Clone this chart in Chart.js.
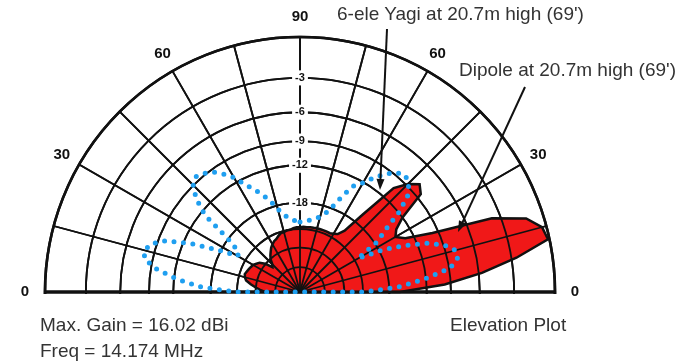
<!DOCTYPE html>
<html>
<head>
<meta charset="utf-8">
<script src="https://cdn.jsdelivr.net/npm/chart.js@4/dist/chart.umd.min.js"></script>
<style>
  html, body { margin: 0; background: #fff; }
  #wrap { position: relative; width: 684px; height: 364px; overflow: hidden; }
  #wrap canvas { position: absolute; left: 0; top: 0; }
  .txt { position: absolute; font: 19px "Liberation Sans", Arial, sans-serif; line-height: 19px; color: #333; white-space: nowrap; }
</style>
</head>
<body>
<div id="wrap">
  <canvas id="elev" width="684" height="560"></canvas>
  <div class="txt" style="left:337px;top:4px">6-ele Yagi at 20.7m high (69')</div>
  <div class="txt" style="left:459px;top:60px">Dipole at 20.7m high (69')</div>
  <div class="txt" style="left:40px;top:315px">Max. Gain = 16.02 dBi</div>
  <div class="txt" style="left:40px;top:341px">Freq = 14.174 MHz</div>
  <div class="txt" style="left:450px;top:315px">Elevation Plot</div>
</div>
<script>
// elevation angle above horizon, 3 deg steps, 0..180
const elevDeg = Array.from({ length: 61 }, (_, i) => i * 3);

// gain relative to max (16.02 dBi), dB
const yagiDb = [
  -16.1, -9.7, -5.7, -2.6, -0.1, -0.3, -1.2, -3.7, -9.7, -13.2,
  -14.4, -13.7, -12.0, -8.5, -7.9, -8.8, -10.3, -16.1, -20.8, -22.4,
  -22.9, -23.2, -23.2, -23.2, -23.2, -23.2, -23.3, -23.3, -23.4, -23.4,
  -23.5, -23.5, -23.7, -24.0, -24.0, -24.3, -24.3, -24.8, -25.4, -25.7,
  -26.3, -27.0, -28.0, -29.0, -30.2, -32.2, -33.1, -29.8, -28.0, -27.3,
  -26.6, -26.3, -26.0, -25.7, -25.4, -25.7, -26.3, -28.0, -29.8, -31.8,
  -34.1
];
const dipoleDb = [
  -23.5, -16.1, -12.2, -8.9, -7.9, -7.9, -8.9, -10.8, -13.8, -17.3,
  -23.0, -17.5, -15.2, -11.8, -9.6, -8.7, -8.3, -8.7, -9.6, -10.7,
  -12.1, -13.0, -15.1, -17.5, -19.3, -20.3, -21.0, -21.5, -21.7, -21.9,
  -22.2, -21.9, -21.6, -21.0, -20.0, -18.7, -16.8, -15.4, -14.1, -12.9,
  -11.3, -10.2, -9.3, -8.8, -8.5, -9.0, -10.3, -12.6, -18.7, -21.5,
  -21.7, -17.3, -13.2, -9.9, -8.4, -7.9, -8.1, -9.7, -12.4, -16.1,
  -23.5
];

// rings (dB) and their labels on the vertical axis
const ringDb     = [0, -3, -6, -9, -12, -18, -24, -30, -40];
const ringLabels = ['', '-3', '-6', '-9', '-12', '-18', '', '', ''];

// angle labels round the rim
const markDeg    = [0, 30, 60, 90, 120, 150, 180];
const markLabels = ['0', '30', '60', '90', '60', '30', '0'];

// ARRL log scale: 0.89 per 2 dB
const arrl = db => Math.pow(0.89, -db / 2);

// radar spokes: index 0 straight up, clockwise, 3 deg each
const STEP = 3, N = 360 / STEP;
const spokeElev = i => ((90 - STEP * i) % 360 + 360) % 360;
const spokeOf = e => ((90 - e) % 360 + 360) % 360 / STEP;
const labels = Array.from({ length: N }, (_, i) => String(spokeElev(i)));

function toRadar(db) {
  return labels.map((_, i) => {
    const e = spokeElev(i);
    return e <= 180 ? arrl(db[elevDeg.indexOf(e)]) : 0;
  });
}

// upper half only; grid redrawn on top of the red fill, then the rim labels
const halfPlane = {
  id: 'halfPlane',
  beforeDraw(chart) {
    const s = chart.scales.r, ctx = chart.ctx;
    ctx.save();
    ctx.beginPath();
    ctx.rect(0, 0, chart.width, s.yCenter + 2);
    ctx.clip();
  },
  afterDatasetDraw(chart, args) {
    if (args.index !== 1) return;
    const s = chart.scales.r;
    s.drawGrid();
    s.drawLabels();
  },
  afterDraw(chart) {
    const s = chart.scales.r, ctx = chart.ctx;
    ctx.restore();

    ctx.save();
    ctx.fillStyle = '#111';
    ctx.font = 'bold 15px "Liberation Sans", Arial, sans-serif';
    ctx.textAlign = 'center';
    ctx.textBaseline = 'middle';
    markDeg.forEach((e, k) => {
      const p = s.getPointPosition(spokeOf(e), s.drawingArea + 20);
      ctx.fillText(markLabels[k], p.x, p.y);
    });

    // pointers from the captions
    const arrow = (x1, y1, x2, y2) => {
      const a = Math.atan2(y2 - y1, x2 - x1);
      ctx.beginPath();
      ctx.moveTo(x1, y1);
      ctx.lineTo(x2 - 6 * Math.cos(a), y2 - 6 * Math.sin(a));
      ctx.stroke();
      ctx.beginPath();
      ctx.moveTo(x2, y2);
      ctx.lineTo(x2 - 11 * Math.cos(a) + 4 * Math.sin(a), y2 - 11 * Math.sin(a) - 4 * Math.cos(a));
      ctx.lineTo(x2 - 11 * Math.cos(a) - 4 * Math.sin(a), y2 - 11 * Math.sin(a) + 4 * Math.cos(a));
      ctx.closePath();
      ctx.fill();
    };
    ctx.strokeStyle = '#111';
    ctx.lineWidth = 2;
    arrow(387, 29, 380, 190);
    arrow(525, 87, 458, 232);
    ctx.restore();
  }
};

new Chart(document.getElementById('elev'), {
  type: 'radar',
  data: {
    labels,
    datasets: [
      {
        label: 'Dipole at 20.7m high',
        data: toRadar(dipoleDb),
        borderColor: '#1f9ff0',
        borderWidth: 5,
        borderDash: [0, 9.5],
        borderCapStyle: 'round',
        fill: false,
        pointRadius: 0
      },
      {
        label: '6-ele Yagi at 20.7m high',
        data: toRadar(yagiDb),
        borderColor: '#111',
        borderWidth: 2.5,
        backgroundColor: '#f01818',
        fill: 'origin',
        pointRadius: 0
      }
    ]
  },
  options: {
    responsive: false,
    animation: false,
    events: [],
    // v4 radial scale pads by half the tick backdrop (7.5px) on every side
    layout: { padding: { left: 37.5, right: 121.5, top: 29.5, bottom: 5.5 } },
    elements: { line: { tension: 0 } },
    plugins: { legend: { display: false }, tooltip: { enabled: false } },
    scales: {
      r: {
        min: 0, max: 1, startAngle: 0,
        afterBuildTicks: s => { s.ticks = [0, ...ringDb.map(arrl)].map(value => ({ value })); },
        ticks: {
          callback: (v, i) => i === 0 ? '' : ringLabels[i - 1],
          font: { size: 11, weight: 'bold', family: '"Liberation Sans", Arial, sans-serif' },
          color: '#111',
          backdropColor: '#fff',
          backdropPadding: { x: 3, y: 2 },
          showLabelBackdrop: c => c.index > 0 && ringLabels[c.index - 1] !== ''
        },
        grid: { circular: true, color: '#111', lineWidth: c => c.index === 1 ? 2.6 : 1.8 },
        angleLines: {
          color: '#111',
          lineWidth: c => {
            const e = spokeElev(c.index);
            if (e > 180 || e % 15) return 0;
            return e === 0 || e === 180 ? 3 : 1.8;
          }
        },
        pointLabels: { display: false }
      }
    }
  },
  plugins: [halfPlane]
});
</script>
</body>
</html>
